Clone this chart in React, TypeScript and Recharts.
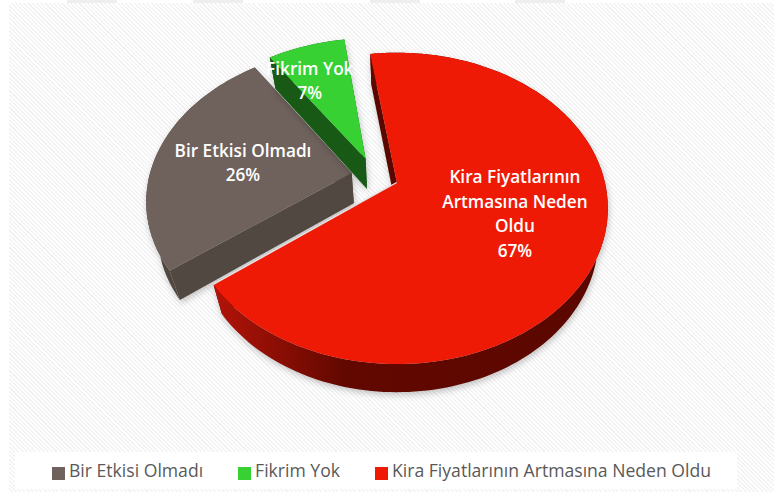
import { PieChart, Pie, Cell, Legend } from 'recharts';

const categories = ['Bir Etkisi Olmadı', 'Fikrim Yok', 'Kira Fiyatlarının Artmasına Neden Oldu'];
const values = [25.7, 7.3, 67];
const labelLines = [['Bir Etkisi Olmadı'], ['Fikrim Yok'], ['Kira Fiyatlarının', 'Artmasına Neden', 'Oldu']];

const TOP_COLORS = ['#6f625d', '#38d133', '#ee1a05'];
const SIDE_COLORS = ['#524842', '#185a15', '#5a0700'];
const TABS = [67, 193, 370, 515];

// exploded slices are shifted on the disc before projecting it
const EXPLODE = [[-0.22, -0.066], [-0.155, -0.165], [0, 0]];
const SLICE_SCALE = [0.98, 0.965, 1];
const LABEL_RADIUS = [0.54, 0.72, 0.58];
const LABEL_NUDGE = [[-1, 1], [-10, 8], [2, -4]];

const RY_RATIO = 151.5 / 208;
const PERSPECTIVE = 0.163;
const DEPTH = 30;

const tableData = categories.map((name, i) => ({ name, value: values[i] }));

function project(cx: number, cy: number, r: number, u: number, v: number) {
  const w = 1 - PERSPECTIVE * v;
  return [cx + (r * u) / w, cy + (r * RY_RATIO * v) / w];
}

function lower(cx: number, cy: number, p: number[]) {
  return [cx + (p[0] - cx) * 0.955, cy + (p[1] - cy) * 0.99 + DEPTH];
}

function toPath(points: number[][]) {
  return points.map((p, i) => `${i ? 'L' : 'M'}${p[0].toFixed(1)},${p[1].toFixed(1)}`).join(' ') + ' Z';
}

// Excel style 3D slice: perspective ellipse, outer wall, cut wall and top
function Slice3D(props: any) {
  const { cx, cy, outerRadius, startAngle, endAngle, name } = props;
  const i = categories.indexOf(name);
  const [ex, ey] = EXPLODE[i];
  const scale = SLICE_SCALE[i];
  const steps = Math.ceil(Math.abs(endAngle - startAngle) / 1.5);
  const arc: number[][] = [];
  for (let s = 0; s <= steps; s++) {
    const a = ((startAngle + ((endAngle - startAngle) * s) / steps) * Math.PI) / 180;
    arc.push(project(cx, cy, outerRadius, Math.cos(a) * scale + ex, -Math.sin(a) * scale + ey));
  }
  const apex = project(cx, cy, outerRadius, ex, ey);
  const first = arc[0];
  const last = arc[arc.length - 1];
  const wallFill = i === 2 ? 'url(#redWall)' : SIDE_COLORS[i];

  return (
    <g style={{ filter: 'drop-shadow(1px 3px 3px rgba(0,0,0,0.22))' }}>
      <defs>
        <linearGradient id="redWall" gradientUnits="userSpaceOnUse" x1="218" y1="0" x2="610" y2="0">
          <stop offset="0" stopColor="#b01308" />
          <stop offset="0.32" stopColor="#620800" />
          <stop offset="1" stopColor="#5a0700" />
        </linearGradient>
      </defs>
      <path d={toPath([apex, first, lower(cx, cy, first), lower(cx, cy, apex)])} fill={SIDE_COLORS[i]} />
      <path d={toPath([apex, last, lower(cx, cy, last), lower(cx, cy, apex)])} fill={SIDE_COLORS[i]} />
      <path d={toPath([...arc, ...arc.map((p) => lower(cx, cy, p)).reverse()])} fill={wallFill} />
      {i === 2 && <line x1={apex[0]} y1={apex[1]} x2={last[0]} y2={last[1]} stroke="#e4e4e4" strokeWidth={2.5} />}
      <path d={toPath([apex, ...arc])} fill={TOP_COLORS[i]} />
    </g>
  );
}

function renderLabel(props: any) {
  const { cx, cy, outerRadius, midAngle, percent, name } = props;
  const i = categories.indexOf(name);
  const a = (midAngle * Math.PI) / 180;
  const [x, y] = project(
    cx,
    cy,
    outerRadius,
    Math.cos(a) * LABEL_RADIUS[i] + EXPLODE[i][0],
    -Math.sin(a) * LABEL_RADIUS[i] + EXPLODE[i][1],
  );
  const lines = [...labelLines[i], `${Math.round(percent * 100)}%`];
  const lineHeight = 24.5;
  const top = y + LABEL_NUDGE[i][1] - ((lines.length - 1) * lineHeight) / 2;
  return (
    <text
      key={name}
      textAnchor="middle"
      dominantBaseline="central"
      fill="#ffffff"
      fontFamily="'Open Sans', sans-serif"
      fontWeight={600}
      fontSize={17.2}
    >
      {lines.map((line, n) => (
        <tspan key={n} x={x + LABEL_NUDGE[i][0]} y={top + n * lineHeight}>
          {line}
        </tspan>
      ))}
    </text>
  );
}

export default function App() {
  return (
    <div style={{ position: 'absolute', left: 0, top: 0, width: 774, height: 496, background: '#ffffff', overflow: 'hidden' }}>
      {TABS.map((x) => (
        <div key={x} style={{ position: 'absolute', left: x, top: 0, width: 50, height: 3, background: '#eeeeee' }} />
      ))}
      <div
        style={{
          position: 'absolute',
          left: 9,
          top: 3,
          width: 765,
          height: 489,
          background: 'repeating-linear-gradient(45deg, #ffffff 0px, #ffffff 1.5px, #f3f3f3 1.5px, #f3f3f3 3px)',
        }}
      />
      <div style={{ position: 'absolute', left: 15, top: 452, width: 722, height: 37, background: '#ffffff' }} />
      <div style={{ position: 'absolute', left: 0, top: 0 }}>
        <PieChart width={774} height={496} margin={{ top: 0, right: 0, bottom: 0, left: 0 }}>
          <Pie
            data={tableData}
            dataKey="value"
            nameKey="name"
            cx={397}
            cy={183}
            outerRadius={208}
            startAngle={-142.6}
            endAngle={-502.6}
            stroke="none"
            isAnimationActive={false}
            labelLine={false}
            label={renderLabel}
            shape={Slice3D}
          >
            {categories.map((name, i) => (
              <Cell key={name} fill={TOP_COLORS[i]} />
            ))}
          </Pie>
          <Legend
            layout="horizontal"
            align="left"
            iconType="square"
            iconSize={13}
            wrapperStyle={{ position: 'absolute', left: 52, top: 458, width: 722, height: 24 }}
            formatter={(value: string) => (
              <span style={{ color: '#595959', fontSize: 17.6, fontFamily: "'Open Sans', sans-serif", marginRight: 25 }}>
                {value}
              </span>
            )}
          />
        </PieChart>
      </div>
    </div>
  );
}
